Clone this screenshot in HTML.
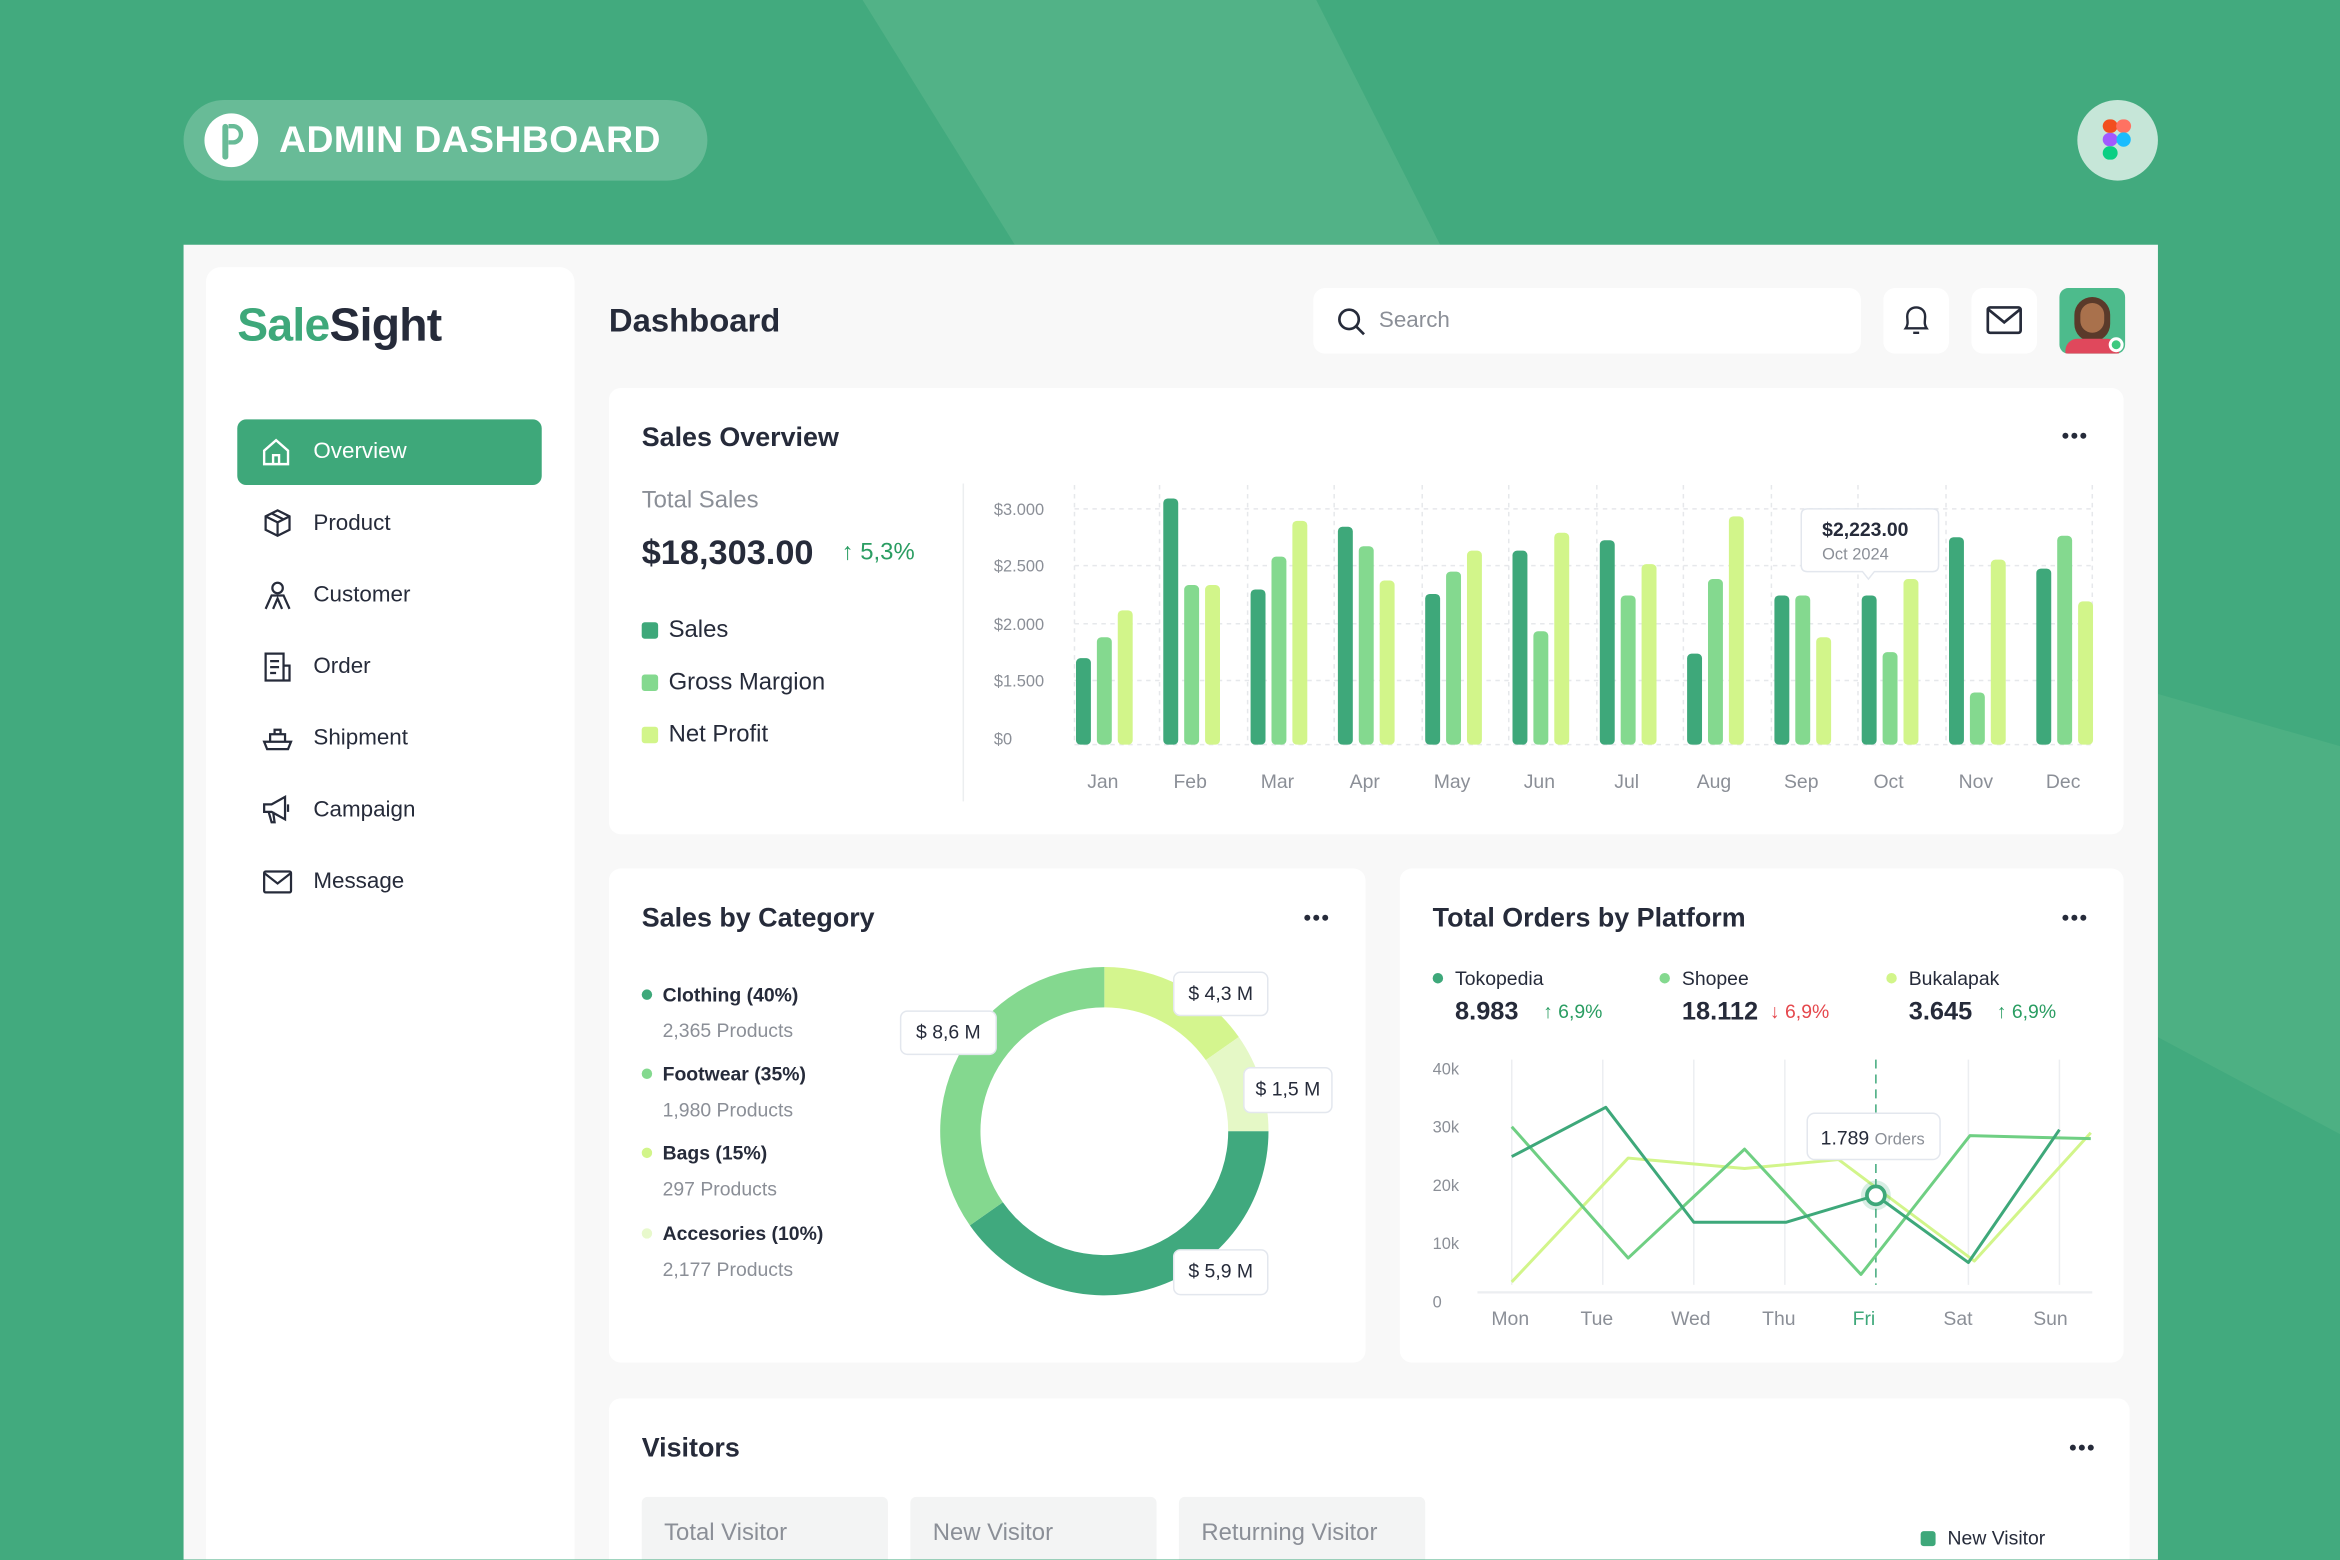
<!DOCTYPE html>
<html><head><meta charset="utf-8"><style>
*{margin:0;padding:0;box-sizing:border-box}
html,body{width:2340px;height:1560px;overflow:hidden;background:#42aa7e}
#r{position:absolute;left:0;top:0;width:1568px;height:1045px;transform:scale(1.49235);transform-origin:0 0;font-family:"Liberation Sans",sans-serif;color:#262b3a;overflow:hidden}
.a{position:absolute}
.card{position:absolute;background:#fff;border-radius:8px}
.t{font-size:18px;font-weight:bold;color:#262b3a}
.dots{position:absolute;width:18px;height:5px}
.dots i{position:absolute;top:0;width:4px;height:4px;border-radius:50%;background:#262b3a}
.nav{position:absolute;left:210px;font-size:15px;color:#262b3a}
.ic{position:absolute;left:175px}
.lbl{position:absolute;background:#fff;border:1px solid #e3e7ee;border-radius:5px;font-size:13px;color:#262b3a;text-align:center;line-height:28px}
.g{fill:#8b8f97;font-size:11px;font-family:"Liberation Sans",sans-serif}
</style></head><body><div id="r">
<svg class="a" style="left:0;top:0" width="1568" height="1045">
<polygon points="578,0 882,0 965,164 680,164" fill="#52b287"/>
<polygon points="1446,465 1568,500 1568,760 1446,695" fill="#4db083"/>
</svg>
<div class="a" style="left:123px;top:67px;width:351px;height:54px;border-radius:27px;background:#68bb97"></div>
<div class="a" style="left:137px;top:76px;width:36px;height:36px;border-radius:50%;background:#fff"></div>
<div class="a" style="left:149px;top:83px;width:4px;height:24px;background:#68bb97;border-radius:2px"></div>
<div class="a" style="left:153px;top:83px;width:10px;height:14px;border:3px solid #68bb97;border-left:none;border-radius:0 7px 7px 0"></div>
<div class="a" style="left:187px;top:80px;font-size:25px;font-weight:bold;color:#fff;letter-spacing:0.3px">ADMIN DASHBOARD</div>
<div class="a" style="left:1392px;top:67px;width:54px;height:54px;border-radius:50%;background:#c6e6d8"></div>
<svg class="a" style="left:1408px;top:79px" width="22" height="30"><rect x="1" y="1" width="10" height="9" rx="4.5" fill="#f24e1e"/><rect x="10" y="1" width="10" height="9" rx="4.5" fill="#ff7262"/><rect x="1" y="10" width="10" height="9" rx="4.5" fill="#a259ff"/><circle cx="15" cy="14.5" r="4.8" fill="#1abcfe"/><rect x="1" y="19" width="10" height="9" rx="4.5" fill="#0acf83"/></svg>

<div class="a" style="left:123px;top:164px;width:1323px;height:881px;background:#f8f8f8"></div>
<div class="a" style="left:138px;top:179px;width:247px;height:866px;border-radius:10px 10px 0 0;background:#fff"></div>
<div class="a" style="left:159px;top:200px;font-size:31px;font-weight:bold;letter-spacing:-0.5px"><span style="color:#3ea87a">Sale</span><span style="color:#262b3a">Sight</span></div>
<div class="a" style="left:159px;top:281px;width:204px;height:44px;border-radius:6px;background:#3ea87a"></div>
<svg class="a" style="left:174px;top:292px" width="22" height="22" fill="none" stroke="#fff" stroke-width="1.6"><path d="M3 10 L11 3 L19 10 V19 H3Z"/><path d="M9 19 V13 H13 V19"/></svg>
<div class="nav" style="top:294px;color:#fff">Overview</div>
<svg class="ic" style="top:340px" width="22" height="22" fill="none" stroke="#262b3a" stroke-width="1.5"><path d="M11 2 L19 6 V15 L11 19 L3 15 V6Z M3 6 L11 10 L19 6 M11 10 V19 M7 4 L15 8"/></svg>
<div class="nav" style="top:342px">Product</div>
<svg class="ic" style="top:388px" width="22" height="22" fill="none" stroke="#262b3a" stroke-width="1.5"><circle cx="11" cy="6" r="3.5"/><path d="M3 20 L7 11 H15 L19 20 M8 20 L11 13 L14 20"/></svg>
<div class="nav" style="top:390px">Customer</div>
<svg class="ic" style="top:436px" width="22" height="22" fill="none" stroke="#262b3a" stroke-width="1.5"><path d="M3 2 H15 V20 H3Z M15 10 H19 V20 H15 M6 7 H12 M6 11 H12 M6 15 H10"/></svg>
<div class="nav" style="top:438px">Order</div>
<svg class="ic" style="top:484px" width="22" height="22" fill="none" stroke="#262b3a" stroke-width="1.5"><path d="M2 13 H20 L18 18 H4Z M6 13 V8 H16 V13 M9 8 V5 H13 V8"/></svg>
<div class="nav" style="top:486px">Shipment</div>
<svg class="ic" style="top:531px" width="22" height="22" fill="none" stroke="#262b3a" stroke-width="1.5"><path d="M2 8 H7 L16 3 V18 L7 13 H2Z M5 13 L7 20 H9 L8 13 M18 8 V13"/></svg>
<div class="nav" style="top:534px">Campaign</div>
<svg class="ic" style="top:580px" width="22" height="22" fill="none" stroke="#262b3a" stroke-width="1.5"><rect x="2" y="4" width="18" height="14" rx="1"/><path d="M2 5 L11 12 L20 5"/></svg>
<div class="nav" style="top:582px">Message</div>

<div class="a" style="left:408px;top:202px;font-size:22px;font-weight:bold">Dashboard</div>
<div class="card" style="left:880px;top:193px;width:367px;height:44px"></div>
<svg class="a" style="left:895px;top:205px" width="22" height="22" fill="none" stroke="#262b3a" stroke-width="1.8"><circle cx="9" cy="9" r="6.5"/><path d="M14 14 L19 19"/></svg>
<div class="a" style="left:924px;top:206px;font-size:15px;color:#8b8f97">Search</div>
<div class="card" style="left:1262px;top:193px;width:44px;height:44px"></div>
<svg class="a" style="left:1273px;top:203px" width="22" height="24" fill="none" stroke="#262b3a" stroke-width="1.6"><path d="M4 17 C6 14 5 12 5 9 C5 5 8 3 11 3 C14 3 17 5 17 9 C17 12 16 14 18 17Z M9 20 H13"/></svg>
<div class="card" style="left:1321px;top:193px;width:44px;height:44px"></div>
<svg class="a" style="left:1330px;top:204px" width="26" height="22" fill="none" stroke="#262b3a" stroke-width="1.8"><rect x="2" y="2" width="22" height="17" rx="1.5"/><path d="M2 3 L13 12 L24 3"/></svg>
<div class="a" style="left:1380px;top:193px;width:44px;height:44px;border-radius:6px;background:#4dbb8c;overflow:hidden"><div class="a" style="left:10px;top:6px;width:24px;height:30px;border-radius:12px;background:#5a3a2a"></div><div class="a" style="left:14px;top:10px;width:16px;height:20px;border-radius:8px;background:#a9714c"></div><div class="a" style="left:4px;top:34px;width:36px;height:10px;border-radius:8px 8px 0 0;background:#e0485c"></div></div>
<div class="a" style="left:1413px;top:226px;width:10px;height:10px;border-radius:50%;background:#3ec97f;border:2px solid #fff"></div>

<!-- Sales overview -->
<div class="card" style="left:408px;top:260px;width:1015px;height:299px"></div>
<div class="a t" style="left:430px;top:283px">Sales Overview</div>
<div class="dots" style="left:1382px;top:290px"><i style="left:0"></i><i style="left:6px"></i><i style="left:12px"></i></div>
<div class="a" style="left:430px;top:327px;font-size:16px;color:#8b8f97">Total Sales</div>
<div class="a" style="left:430px;top:357px;font-size:23px;font-weight:bold">$18,303.00</div>
<div class="a" style="left:564px;top:362px;font-size:16px;color:#2a9d62">↑ 5,3%</div>
<div class="a" style="left:430px;top:417px;width:11px;height:11px;border-radius:2px;background:#3ea87a"></div>
<div class="a" style="left:448px;top:414px;font-size:16px">Sales</div>
<div class="a" style="left:430px;top:452px;width:11px;height:11px;border-radius:2px;background:#84d98f"></div>
<div class="a" style="left:448px;top:449px;font-size:16px">Gross Margion</div>
<div class="a" style="left:430px;top:487px;width:11px;height:11px;border-radius:2px;background:#d2f58a"></div>
<div class="a" style="left:448px;top:484px;font-size:16px">Net Profit</div>
<div class="a" style="left:645px;top:324px;width:1px;height:213px;background:#eceef0"></div>
<svg class="a" style="left:0;top:0" width="1568" height="1045">
<g stroke="#e6e8eb" stroke-dasharray="3 3"><line x1="720" y1="341" x2="1402" y2="341"/><line x1="720" y1="379" x2="1402" y2="379"/><line x1="720" y1="418" x2="1402" y2="418"/><line x1="720" y1="456" x2="1402" y2="456"/><line x1="720" y1="499" x2="1402" y2="499"/>
<line x1="720" y1="325" x2="720" y2="499"/><line x1="777" y1="325" x2="777" y2="499"/><line x1="836" y1="325" x2="836" y2="499"/><line x1="894" y1="325" x2="894" y2="499"/><line x1="953" y1="325" x2="953" y2="499"/><line x1="1011" y1="325" x2="1011" y2="499"/><line x1="1070" y1="325" x2="1070" y2="499"/><line x1="1128" y1="325" x2="1128" y2="499"/><line x1="1187" y1="325" x2="1187" y2="499"/><line x1="1245" y1="325" x2="1245" y2="499"/><line x1="1304" y1="325" x2="1304" y2="499"/><line x1="1402" y1="325" x2="1402" y2="499"/></g>
<g class="g"><text x="666" y="345" class="g">$3.000</text><text x="666" y="383" class="g">$2.500</text><text x="666" y="422" class="g">$2.000</text><text x="666" y="460" class="g">$1.500</text><text x="666" y="499" class="g">$0</text></g>
<g fill="#3ea87a"><rect x="721" y="441" width="10" height="58" rx="3"/><rect x="779.5" y="334" width="10" height="165" rx="3"/><rect x="838" y="395" width="10" height="104" rx="3"/><rect x="896.5" y="353" width="10" height="146" rx="3"/><rect x="955" y="398" width="10" height="101" rx="3"/><rect x="1013.5" y="369" width="10" height="130" rx="3"/><rect x="1072" y="362" width="10" height="137" rx="3"/><rect x="1130.5" y="438" width="10" height="61" rx="3"/><rect x="1189" y="399" width="10" height="100" rx="3"/><rect x="1247.5" y="399" width="10" height="100" rx="3"/><rect x="1306" y="360" width="10" height="139" rx="3"/><rect x="1364.5" y="381" width="10" height="118" rx="3"/></g>
<g fill="#84d98f"><rect x="735" y="427" width="10" height="72" rx="3"/><rect x="793.5" y="392" width="10" height="107" rx="3"/><rect x="852" y="373" width="10" height="126" rx="3"/><rect x="910.5" y="366" width="10" height="133" rx="3"/><rect x="969" y="383" width="10" height="116" rx="3"/><rect x="1027.5" y="423" width="10" height="76" rx="3"/><rect x="1086" y="399" width="10" height="100" rx="3"/><rect x="1144.5" y="388" width="10" height="111" rx="3"/><rect x="1203" y="399" width="10" height="100" rx="3"/><rect x="1261.5" y="437" width="10" height="62" rx="3"/><rect x="1320" y="464" width="10" height="35" rx="3"/><rect x="1378.5" y="359" width="10" height="140" rx="3"/></g>
<g fill="#d2f58a"><rect x="749" y="409" width="10" height="90" rx="3"/><rect x="807.5" y="392" width="10" height="107" rx="3"/><rect x="866" y="349" width="10" height="150" rx="3"/><rect x="924.5" y="389" width="10" height="110" rx="3"/><rect x="983" y="369" width="10" height="130" rx="3"/><rect x="1041.5" y="357" width="10" height="142" rx="3"/><rect x="1100" y="378" width="10" height="121" rx="3"/><rect x="1158.5" y="346" width="10" height="153" rx="3"/><rect x="1217" y="427" width="10" height="72" rx="3"/><rect x="1275.5" y="388" width="10" height="111" rx="3"/><rect x="1334" y="375" width="10" height="124" rx="3"/><rect x="1392.5" y="403" width="10" height="96" rx="3"/></g>
<g fill="#8b8f97" font-size="13" font-family="Liberation Sans" text-anchor="middle"><text x="739" y="528">Jan</text><text x="797.5" y="528">Feb</text><text x="856" y="528">Mar</text><text x="914.5" y="528">Apr</text><text x="973" y="528">May</text><text x="1031.5" y="528">Jun</text><text x="1090" y="528">Jul</text><text x="1148.5" y="528">Aug</text><text x="1207" y="528">Sep</text><text x="1265.5" y="528">Oct</text><text x="1324" y="528">Nov</text><text x="1382.5" y="528">Dec</text></g>
<path d="M1211 341 H1295 Q1299 341 1299 345 V379 Q1299 383 1295 383 H1256 L1252 388 L1248 383 H1211 Q1207 383 1207 379 V345 Q1207 341 1211 341Z" fill="#fff" stroke="#e3e7ee"/>
<text x="1221" y="359" font-size="13" font-weight="bold" fill="#262b3a" font-family="Liberation Sans">$2,223.00</text>
<text x="1221" y="375" font-size="11" fill="#8b8f97" font-family="Liberation Sans">Oct 2024</text>
</svg>

<!-- Sales by category -->
<div class="card" style="left:408px;top:582px;width:507px;height:331px"></div>
<div class="a t" style="left:430px;top:605px">Sales by Category</div>
<div class="dots" style="left:874px;top:613px"><i style="left:0"></i><i style="left:6px"></i><i style="left:12px"></i></div>
<div class="a" style="left:430px;top:663px;width:7px;height:7px;border-radius:50%;background:#3ea87a"></div>
<div class="a" style="left:444px;top:659px;font-size:13px;font-weight:bold">Clothing (40%)</div>
<div class="a" style="left:444px;top:683px;font-size:13px;color:#8b8f97">2,365 Products</div>
<div class="a" style="left:430px;top:716px;width:7px;height:7px;border-radius:50%;background:#84d98f"></div>
<div class="a" style="left:444px;top:712px;font-size:13px;font-weight:bold">Footwear (35%)</div>
<div class="a" style="left:444px;top:736px;font-size:13px;color:#8b8f97">1,980 Products</div>
<div class="a" style="left:430px;top:769px;width:7px;height:7px;border-radius:50%;background:#d2f58a"></div>
<div class="a" style="left:444px;top:765px;font-size:13px;font-weight:bold">Bags (15%)</div>
<div class="a" style="left:444px;top:789px;font-size:13px;color:#8b8f97">297 Products</div>
<div class="a" style="left:430px;top:823px;width:7px;height:7px;border-radius:50%;background:#e8f9cc"></div>
<div class="a" style="left:444px;top:819px;font-size:13px;font-weight:bold">Accesories (10%)</div>
<div class="a" style="left:444px;top:843px;font-size:13px;color:#8b8f97">2,177 Products</div>
<svg class="a" style="left:0;top:0" width="1568" height="1045">
<path d="M740 648 A110 110 0 0 1 830.1 694.9 L808 710.4 A83 83 0 0 0 740 675Z" fill="#d4f58e"/>
<path d="M830.1 694.9 A110 110 0 0 1 850 758 L823 758 A83 83 0 0 0 808 710.4Z" fill="#e5f8c6"/>
<path d="M850 758 A110 110 0 0 1 649.9 821.1 L672 805.6 A83 83 0 0 0 823 758Z" fill="#40a97e"/>
<path d="M649.9 821.1 A110 110 0 0 1 740 648 L740 675 A83 83 0 0 0 672 805.6Z" fill="#84d88f"/>
</svg>
<div class="lbl" style="left:786px;top:651px;width:64px;height:30px">$ 4,3 M</div>
<div class="lbl" style="left:603px;top:677px;width:65px;height:30px">$ 8,6 M</div>
<div class="lbl" style="left:833px;top:715px;width:60px;height:31px">$ 1,5 M</div>
<div class="lbl" style="left:786px;top:837px;width:64px;height:31px">$ 5,9 M</div>

<!-- Orders by platform -->
<div class="card" style="left:938px;top:582px;width:485px;height:331px"></div>
<div class="a t" style="left:960px;top:605px">Total Orders by Platform</div>
<div class="dots" style="left:1382px;top:613px"><i style="left:0"></i><i style="left:6px"></i><i style="left:12px"></i></div>
<div class="a" style="left:960px;top:652px;width:7px;height:7px;border-radius:50%;background:#3ea87a"></div>
<div class="a" style="left:975px;top:648px;font-size:13px">Tokopedia</div>
<div class="a" style="left:975px;top:668px;font-size:17px;font-weight:bold">8.983</div>
<div class="a" style="left:1034px;top:670px;font-size:13px;color:#2a9d62">↑ 6,9%</div>
<div class="a" style="left:1112px;top:652px;width:7px;height:7px;border-radius:50%;background:#84d98f"></div>
<div class="a" style="left:1127px;top:648px;font-size:13px">Shopee</div>
<div class="a" style="left:1127px;top:668px;font-size:17px;font-weight:bold">18.112</div>
<div class="a" style="left:1186px;top:670px;font-size:13px;color:#e5484d">↓ 6,9%</div>
<div class="a" style="left:1264px;top:652px;width:7px;height:7px;border-radius:50%;background:#d2f58a"></div>
<div class="a" style="left:1279px;top:648px;font-size:13px">Bukalapak</div>
<div class="a" style="left:1279px;top:668px;font-size:17px;font-weight:bold">3.645</div>
<div class="a" style="left:1338px;top:670px;font-size:13px;color:#2a9d62">↑ 6,9%</div>
<svg class="a" style="left:0;top:0" width="1568" height="1045" font-family="Liberation Sans">
<g stroke="#eceef1"><line x1="1013" y1="710" x2="1013" y2="861"/><line x1="1074" y1="710" x2="1074" y2="861"/><line x1="1135" y1="710" x2="1135" y2="861"/><line x1="1196" y1="710" x2="1196" y2="861"/><line x1="1319" y1="710" x2="1319" y2="861"/><line x1="1380" y1="710" x2="1380" y2="861"/><line x1="990" y1="866" x2="1402" y2="866" stroke-width="1.5"/></g>
<line x1="1257" y1="710" x2="1257" y2="861" stroke="#3ea87a" stroke-dasharray="6 4"/>
<g fill="#8b8f97" font-size="11"><text x="960" y="720">40k</text><text x="960" y="759">30k</text><text x="960" y="798">20k</text><text x="960" y="837">10k</text><text x="960" y="876">0</text></g>
<g fill="#8b8f97" font-size="13" text-anchor="middle"><text x="1012" y="888">Mon</text><text x="1070" y="888">Tue</text><text x="1133" y="888">Wed</text><text x="1192" y="888">Thu</text><text x="1249" y="888" fill="#3ea87a">Fri</text><text x="1312" y="888">Sat</text><text x="1374" y="888">Sun</text></g>
<g fill="none" stroke-width="2" stroke-linejoin="round">
<polyline points="1013,859 1091,776 1169,783 1232,777 1323,845 1401,759" stroke="#d2f58a"/>
<polyline points="1013,755 1091,843 1169,770 1247,854 1320,761 1401,763" stroke="#6fcf83"/>
<polyline points="1013,775 1076,742 1135,819 1197,819 1257,801 1319,846 1380,757" stroke="#3ea87a"/>
</g>
<circle cx="1257" cy="801" r="10" fill="#3ea87a" opacity="0.2"/>
<circle cx="1257" cy="801" r="6" fill="#fff" stroke="#3ea87a" stroke-width="2.5"/>
<rect x="1211" y="746" width="89" height="31" rx="5" fill="#fff" stroke="#e3e7ee"/>
<text x="1220" y="767" font-size="13" fill="#262b3a">1.789 <tspan font-size="11" fill="#8b8f97">Orders</tspan></text>
</svg>

<!-- Visitors -->
<div class="a" style="left:408px;top:937px;width:1019px;height:108px;background:#fff;border-radius:8px 8px 0 0"></div>
<div class="a t" style="left:430px;top:960px">Visitors</div>
<div class="dots" style="left:1387px;top:968px"><i style="left:0"></i><i style="left:6px"></i><i style="left:12px"></i></div>
<div class="a" style="left:430px;top:1003px;width:165px;height:42px;background:#f3f4f4;border-radius:4px 4px 0 0"></div>
<div class="a" style="left:610px;top:1003px;width:165px;height:42px;background:#f3f4f4;border-radius:4px 4px 0 0"></div>
<div class="a" style="left:790px;top:1003px;width:165px;height:42px;background:#f3f4f4;border-radius:4px 4px 0 0"></div>
<div class="a" style="left:445px;top:1019px;font-size:16px;color:#8b8f97">Total Visitor</div>
<div class="a" style="left:625px;top:1019px;font-size:16px;color:#8b8f97">New Visitor</div>
<div class="a" style="left:805px;top:1019px;font-size:16px;color:#8b8f97">Returning Visitor</div>
<div class="a" style="left:1287px;top:1026px;width:10px;height:10px;border-radius:2px;background:#3ea87a"></div>
<div class="a" style="left:1305px;top:1023px;font-size:13px">New Visitor</div>
</div></body></html>
